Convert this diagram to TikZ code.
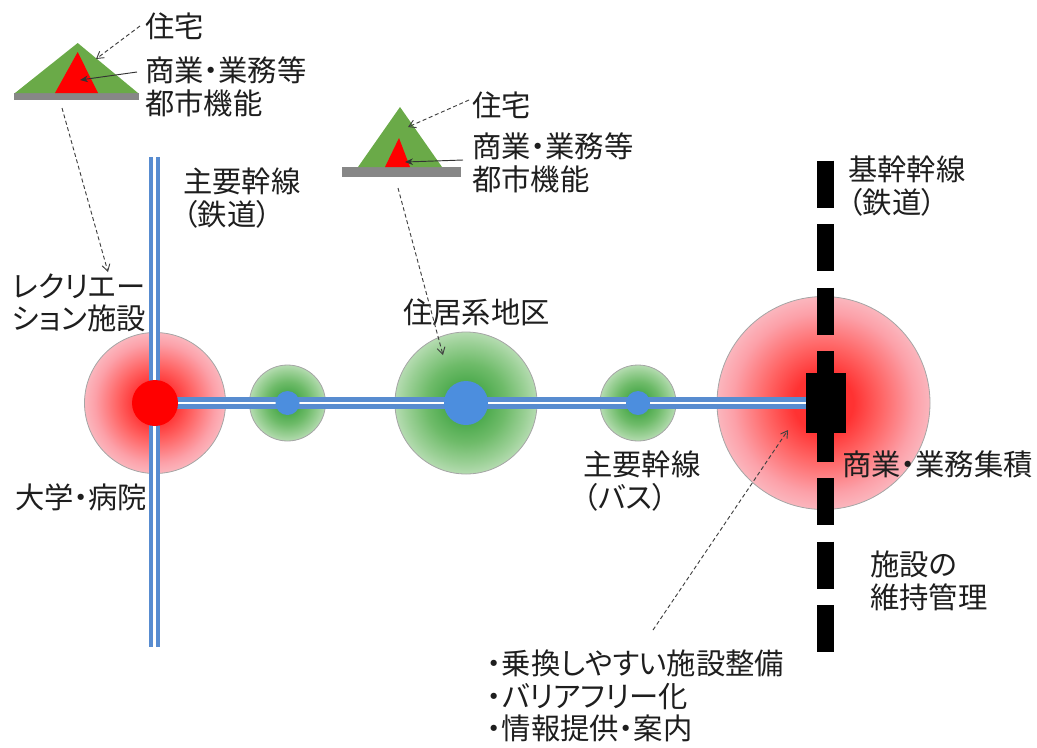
\documentclass[tikz,border=0pt]{standalone}
\usepackage{fontspec}
\newfontfamily\jp{Noto Sans CJK JP}[RawFeature=+palt]
\usetikzlibrary{arrows.meta}
\definecolor{railblue}{RGB}{88,140,208}
\definecolor{dotblue}{RGB}{76,142,222}
\definecolor{ringgray}{RGB}{165,165,165}
\definecolor{rcore}{RGB}{255,50,50}
\definecolor{rin}{RGB}{255,100,100}
\definecolor{rmid}{RGB}{252,160,168}
\definecolor{rout}{RGB}{250,205,212}
\definecolor{redge}{RGB}{252,234,238}
\definecolor{gcore}{RGB}{80,172,80}
\definecolor{gin}{RGB}{110,187,105}
\definecolor{gmid}{RGB}{155,208,150}
\definecolor{gout}{RGB}{208,232,205}
\definecolor{gedge}{RGB}{236,243,236}
\definecolor{trigreen}{RGB}{106,170,72}
\definecolor{barGray}{RGB}{135,135,135}
\definecolor{txt}{RGB}{30,30,30}
\pgfdeclareradialshading{redglow}{\pgfpoint{0bp}{0bp}}{color(0bp)=(rcore); color(7bp)=(rcore); color(13.4bp)=(rin); color(21.2bp)=(rmid); color(29bp)=(rout); color(35.4bp)=(redge); color(50bp)=(redge)}
\pgfdeclareradialshading{greenglow}{\pgfpoint{0bp}{0bp}}{color(0bp)=(gcore); color(7.8bp)=(gcore); color(14bp)=(gin); color(21.2bp)=(gmid); color(29bp)=(gout); color(35.4bp)=(gedge); color(50bp)=(gedge)}
\begin{document}
\begin{tikzpicture}[x=0.75pt,y=-0.75pt,
  lbl/.style={font=\jp\fontsize{22}{24.5}\selectfont, inner sep=0pt, align=left, anchor=west, text=txt},
  zone/.style={circle, draw=ringgray, line width=0.6pt, shade, inner sep=0pt},
  redzone/.style={zone, shading=redglow},
  greenzone/.style={zone, shading=greenglow},
  rail/.style={draw=railblue, line width=3.6pt, double=white, double distance=1.6pt},
  hub/.style={circle, fill=dotblue, inner sep=0pt},
  dptr/.style={draw=black!75, line width=0.7pt, densely dashed, -{Straight Barb[length=5pt,width=6pt]}},
  sptr/.style={draw=black!80, line width=0.7pt, -{Stealth[length=6pt,width=5pt]}}]
\useasboundingbox (0,0) rectangle (1037,747);

% zones
\node[redzone, minimum size=105.75pt] (zL) at (155,403) {};
\node[greenzone, minimum size=57pt] (g1) at (287.5,403) {};
\node[greenzone, minimum size=106.5pt] (g2) at (466,403) {};
\node[greenzone, minimum size=57pt] (g3) at (638,403) {};
\node[redzone, minimum size=159.75pt] (zR) at (823.5,403) {};

% trunk railway (dashed)
\coordinate (trTop) at (825.5,160.5);
\coordinate (trBot) at (825.5,652.5);
\draw[line width=12.75pt, dash pattern=on 35.25pt off 12.375pt] (trTop) -- (trBot);

% block
\node[fill=black, minimum width=30pt, minimum height=45pt, inner sep=0pt] (blk) at (826,403) {};

% rails
\coordinate (vTop) at (154.5,157);
\coordinate (vBot) at (154.5,647);
\draw[rail] (vTop) -- (vBot);
\coordinate (hStart) at (155,403);
\draw[rail] (hStart) -- (blk.west);

% hubs
\node[circle, fill=red, minimum size=34.5pt, inner sep=0pt] (rdot) at (155,403) {};
\node[hub, minimum size=18pt] (b1) at (287.5,403) {};
\node[hub, minimum size=33pt] (b2) at (466,403) {};
\node[hub, minimum size=18pt] (b3) at (638,403) {};

% triangle 1
\fill[barGray] (14,93) rectangle (139,100);
\fill[trigreen] (15,93) -- (77.7,43) -- (138,93) -- cycle;
\fill[red] (55,93) -- (77.7,52) -- (98,93) -- cycle;
% triangle 2
\fill[barGray] (342,167) rectangle (461,177);
\fill[trigreen] (358,167) -- (400,107) -- (442,167) -- cycle;
\fill[red] (385,167) -- (399,138) -- (410,167) -- cycle;

% labels
\node[lbl] (h1) at (145,26) {住宅};
\node[lbl] (s1) at (145,87) {商業・業務等\\都市機能};
\node[lbl] (h2) at (472,105) {住宅};
\node[lbl] (s2) at (472,163) {商業・業務等\\都市機能};
\node[lbl] (rl) at (183,198) {主要幹線\\（鉄道）};
\node[lbl] (tk) at (848,186) {基幹幹線\\（鉄道）};
\node[lbl] (rec) at (12,303) {レクリエー\\ション施設};
\node[lbl] (res) at (403,312) {住居系地区};
\node[lbl] (uni) at (15,497) {大学・病院};
\node[lbl] (bus) at (583,481) {主要幹線\\（バス）};
\node[lbl] (com) at (842,464) {商業・業務集積};
\node[lbl] (mnt) at (870,581) {施設の\\維持管理};
\node[lbl] (tra) at (487,696) {・乗換しやすい施設整備\\・バリアフリー化\\・情報提供・案内};

% pointers
\coordinate (a1s) at (140,26);
\coordinate (a1e) at (96,59);
\draw[dptr] (a1s) -- (a1e);
\coordinate (a2s) at (137,72);
\coordinate (a2e) at (80,80);
\draw[sptr] (a2s) -- (a2e);
\coordinate (a3s) at (469,100);
\coordinate (a3e) at (408,127);
\draw[dptr] (a3s) -- (a3e);
\coordinate (a4s) at (463,160);
\coordinate (a4e) at (405,162);
\draw[sptr] (a4s) -- (a4e);
\coordinate (l1s) at (62,108);
\coordinate (l1e) at (108,272);
\draw[dptr] (l1s) -- (l1e);
\coordinate (l2s) at (398,188);
\coordinate (l2e) at (443,355);
\draw[dptr] (l2s) -- (l2e);
\coordinate (l3s) at (653,630);
\coordinate (l3e) at (788,430);
\draw[dptr] (l3s) -- (l3e);
\end{tikzpicture}
\end{document}
